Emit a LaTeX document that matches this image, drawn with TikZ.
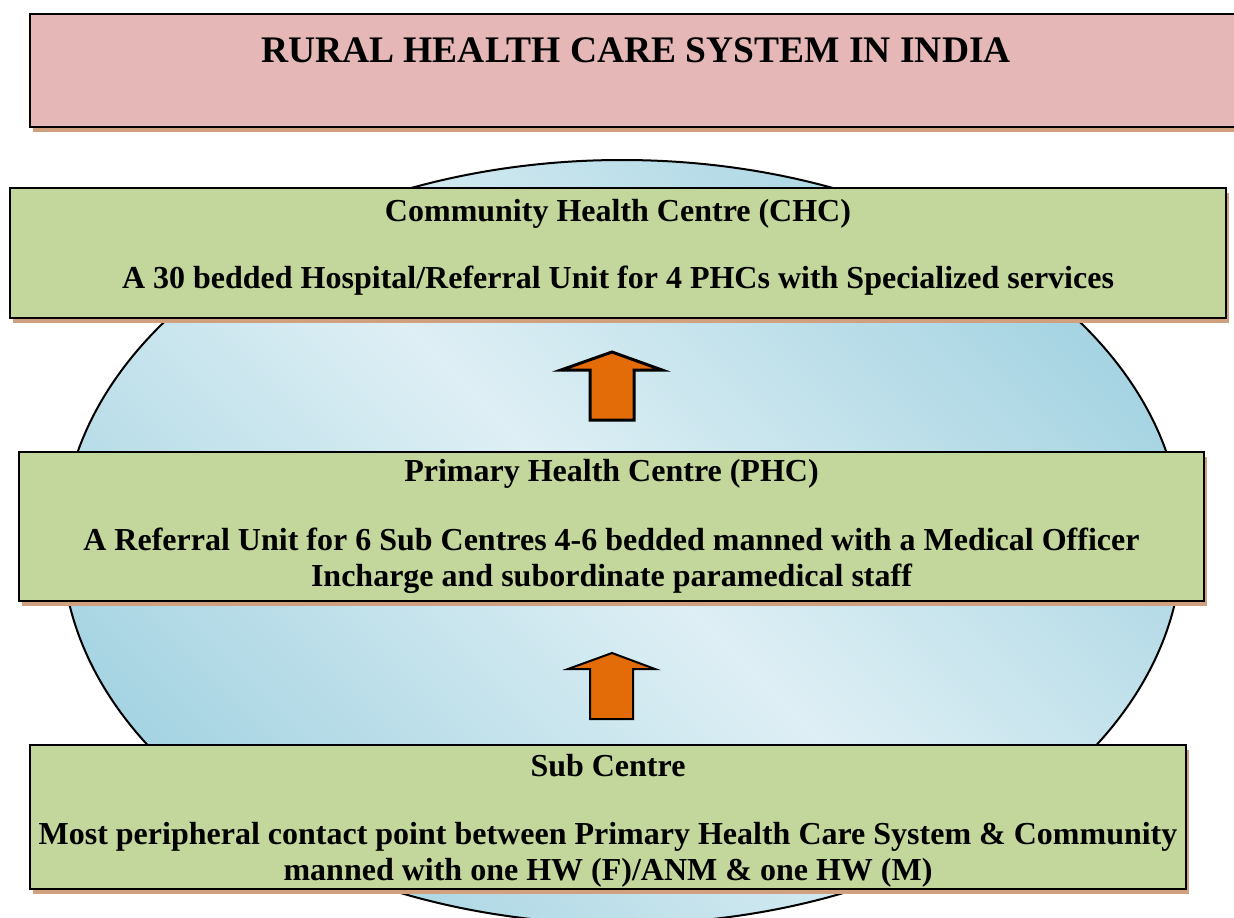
\documentclass[tikz,border=0pt]{standalone}
\usepackage{fontspec}
\setmainfont{Liberation Serif}
\usepackage{tikz}
\usetikzlibrary{shadows,positioning}

\definecolor{boxgreen}{RGB}{195,214,155}
\definecolor{titlepink}{RGB}{229,184,183}
\definecolor{shadowtan}{RGB}{209,160,126}
\definecolor{arroworange}{RGB}{227,108,9}
\definecolor{bluedark}{RGB}{166,212,226}
\definecolor{bluelight}{RGB}{222,239,245}

\begin{document}
\begin{tikzpicture}[x=1pt,y=-1pt,font=\bfseries\fontsize{32}{36}\selectfont,
    box/.style={draw=black,line width=2pt,fill=boxgreen,align=center,inner sep=0pt,
        drop shadow={shadow xshift=3pt,shadow yshift=-5pt,fill=shadowtan,opacity=1}},
    blockarrow/.style={draw=black,fill=arroworange,line join=miter,line width=2pt}]
    \useasboundingbox[fill=white] (0,0) rectangle (1234,918);

    % oval in the background
    \draw[line width=2pt,left color=bluedark,right color=bluedark,middle color=bluelight,shading angle=-45]
        (622,542) ellipse [x radius=560,y radius=382];

    \node[box,fill=titlepink,minimum width=1212pt,minimum height=113pt,text depth=40pt,
        font=\bfseries\fontsize{37.5}{42}\selectfont] (title) at (636,70.5) {RURAL HEALTH CARE SYSTEM IN INDIA};
    \node[box,minimum width=1216pt,minimum height=130pt] (chc) at (618,253)
        {Community Health Centre (CHC)\\[31pt]
         A 30 bedded Hospital/Referral Unit for 4 PHCs with Specialized services\\[-17pt]\mbox{}};
    \node[box,minimum width=1185pt,minimum height=149pt] (phc) at (611.5,526.5)
        {Primary Health Centre (PHC)\\[33pt]
         A Referral Unit for 6 Sub Centres 4-6 bedded manned with a Medical Officer\\
         Incharge and subordinate paramedical staff};
    \node[box,minimum width=1156pt,minimum height=144pt] (sub) at (608,817)
        {\mbox{}\\[-6pt]Sub Centre\\[32pt]
         Most peripheral contact point between Primary Health Care System \& Community\\
         manned with one HW (F)/ANM \& one HW (M)};

    % upward arrows
    \draw[blockarrow,line width=3pt] (612,352) -- (662,370) -- (634,370) -- (634,420)
        -- (590,420) -- (590,370) -- (561,370) -- cycle;
    \draw[blockarrow] (612,653) -- (655,669) -- (633,669) -- (633,719)
        -- (590,719) -- (590,669) -- (568,669) -- cycle;
\end{tikzpicture}
\end{document}
